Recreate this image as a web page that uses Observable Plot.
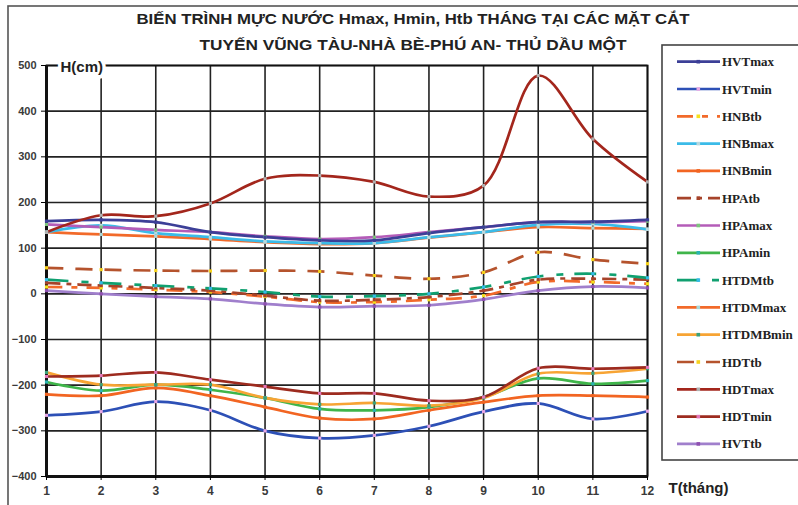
<!DOCTYPE html>
<html><head><meta charset="utf-8">
<script src="https://cdn.jsdelivr.net/npm/d3@7"></script>
<script src="https://cdn.jsdelivr.net/npm/@observablehq/plot@0.6"></script>
<style>
body{margin:0;background:#fff}
#wrap{position:relative;width:798px;height:505px;overflow:hidden;background:#fff}
</style>
</head><body><div id="wrap"></div>
<script>
// ---- data ----
const months = [1,2,3,4,5,6,7,8,9,10,11,12];
const yTicks = [-400,-300,-200,-100,0,100,200,300,400,500];
const titleLines = ["BIẾN TRÌNH MỰC NƯỚC Hmax, Hmin, Htb THÁNG TẠI CÁC MẶT CẮT",
                    "TUYẾN VŨNG TÀU-NHÀ BÈ-PHÚ AN- THỦ DẦU MỘT"];
const yLabel = "H(cm)";
const xLabel = "T(tháng)";
const legendNames = ["HVTmax","HVTmin","HNBtb","HNBmax","HNBmin","HPAtb","HPAmax","HPAmin",
                     "HTDMtb","HTDMmax","HTDMBmin","HDTtb","HDTmax","HDTmin","HVTtb"];

const HVTmax   = [159,162,157,135,124,117,117,133,146,157,158,162];
const HVTmin   = [-266,-258,-236,-255,-300,-316,-310,-290,-258,-240,-274,-257];
const HNBtb    = [15,13,9,4,-6,-18,-18,-13,-4,26,26,22];
const HNBmax   = [135,150,133,124,115,111,111,124,135,151,153,141];
const HNBmin   = [-220,-223,-206,-223,-248,-272,-274,-255,-237,-223,-223,-226];
const HPAtb    = [24,18,13,7,-4,-15,-13,-7,7,31,33,31];
const HPAmax   = [152,146,140,135,126,120,124,135,146,157,157,159];
const HPAmin   = [-193,-212,-199,-210,-228,-252,-255,-248,-226,-185,-197,-190];
const HTDMtb   = [31,24,18,12,4,-6,-5,0,15,38,44,35];
const HTDMmax  = [135,130,126,120,113,109,111,123,135,146,144,142];
const HTDMBmin = [-172,-199,-199,-199,-228,-242,-239,-245,-228,-175,-174,-164];
const HDTtb    = [57,53,51,50,51,49,40,33,47,91,75,66];
const HDTmax   = [135,172,170,198,252,259,245,213,237,478,339,245];
const HDTmin   = [-181,-179,-172,-188,-203,-218,-218,-234,-226,-163,-164,-161];
const HVTtb    = [7,0,-6,-11,-22,-29,-27,-25,-12,7,16,13];

const values = {HVTmax,HVTmin,HNBtb,HNBmax,HNBmin,HPAtb,HPAmax,HPAmin,HTDMtb,HTDMmax,HTDMBmin,HDTtb,HDTmax,HDTmin,HVTtb};

// ---- styles ----
const styles = {
  HVTmax:  {stroke:"#3c3f97", marker:"#3c3f97"},
  HVTmin:  {stroke:"#2d50b6", marker:"#e7a6e4"},
  HNBtb:   {stroke:"#f26a2a", marker:"#f6e21c", dash:"16,9,6,9"},
  HNBmax:  {stroke:"#3bbbe8", marker:"#b9d8de"},
  HNBmin:  {stroke:"#f26522", marker:"#f26522"},
  HPAtb:   {stroke:"#a6432a", marker:"#a6432a", dash:"14,6,5,6"},
  HPAmax:  {stroke:"#b45cb8", marker:"#7cc47c"},
  HPAmin:  {stroke:"#3fb54a", marker:"#2ab3b3"},
  HTDMtb:  {stroke:"#10a070", marker:"#33bbe8", dash:"22,13,7,11"},
  HTDMmax: {stroke:"#f26a2a", marker:"#a8d8d8"},
  HTDMBmin:{stroke:"#f7a434", marker:"#3aa07a"},
  HDTtb:   {stroke:"#b5532d", marker:"#f6d21c", dash:"17,12"},
  HDTmax:  {stroke:"#a3261c", marker:"#b0b0b0"},
  HDTmin:  {stroke:"#9d2b1f", marker:"#e377b8"},
  HVTtb:   {stroke:"#a07fcc", marker:"#8e4fb0"}
};
const drawOrder = ["HVTtb","HNBtb","HPAtb","HTDMtb","HDTtb","HNBmin","HVTmin","HPAmin","HTDMBmin","HDTmin",
                   "HTDMmax","HNBmax","HPAmax","HVTmax","HDTmax"];

const rowsOf = name => values[name].map((v,i)=>({name, month:months[i], value:v}));

const marks = [
  Plot.gridX(months, {stroke:"#222", strokeOpacity:1, strokeWidth:1.6}),
  Plot.gridY(yTicks, {stroke:"#222", strokeOpacity:1, strokeWidth:1.6}),
  Plot.frame({stroke:"#111", strokeWidth:1.8}),
  Plot.ruleX([1], {stroke:"#111", strokeWidth:3}),
  Plot.ruleY([-400], {stroke:"#111", strokeWidth:3}),
  Plot.axisY(yTicks, {label:null, tickSize:5, tickPadding:5, fontSize:11, fontWeight:"bold", fill:"#3a3a3a"}),
  Plot.axisX(months, {label:null, tickSize:4, tickPadding:6, fontSize:12, fontWeight:"bold", fill:"#3a3a3a"})
];
for (const name of drawOrder) {
  const s = styles[name];
  marks.push(Plot.line(rowsOf(name), {x:"month", y:"value", stroke:s.stroke, strokeWidth:2.7,
    curve:"catmull-rom", strokeDasharray:s.dash || null, strokeLinecap:"butt"}));
}
for (const name of drawOrder) {
  const s = styles[name];
  marks.push(Plot.dot(rowsOf(name), {x:"month", y:"value", r:1.8, symbol:"square", fill:s.marker, stroke:null}));
}
marks.push(Plot.text([yLabel], {x:()=>1, y:()=>500, text:d=>d, dx:14, dy:2, textAnchor:"start",
  fontSize:15, fontWeight:"bold", fill:"#222", stroke:"white", strokeWidth:7}));
marks.push(Plot.text([xLabel], {x:()=>12, y:()=>-400, text:d=>d, dx:21, dy:12, textAnchor:"start",
  fontSize:15, fontWeight:"bold", fill:"#222"}));

const chart = Plot.plot({
  width:798, height:505,
  marginLeft:46, marginRight:151, marginTop:65, marginBottom:29,
  x:{domain:[1,12], axis:null, label:null},
  y:{domain:[-400,500], axis:null, label:null},
  style:{fontFamily:"'Liberation Sans', Arial, sans-serif", background:"transparent", overflow:"visible"},
  marks
});
document.getElementById("wrap").appendChild(chart);

// ---- title, outer frame and legend ----
const svg = d3.select(chart);
svg.insert("rect", ":first-child").attr("x",8).attr("y",6).attr("width",820).attr("height",520)
  .attr("fill","none").attr("stroke","#555").attr("stroke-width",1.6);
const tw = [553, 427];
titleLines.forEach((t,i)=>{
  svg.append("text").attr("x",413).attr("y",i===0?23.5:50).attr("text-anchor","middle")
    .attr("font-family","'Liberation Sans', Arial, sans-serif").attr("font-weight","bold")
    .attr("font-size",15).attr("fill","#222")
    .attr("textLength",tw[i]).attr("lengthAdjust","spacingAndGlyphs").text(t);
});
const lg = svg.append("g");
lg.append("rect").attr("x",662).attr("y",45).attr("width",160).attr("height",415)
  .attr("fill","#fff").attr("stroke","#444").attr("stroke-width",1.6);
legendNames.forEach((name,i)=>{
  const s = styles[name];
  const y = 61.7 + i*27.3;
  lg.append("line").attr("x1",677).attr("x2",720).attr("y1",y).attr("y2",y)
    .attr("stroke",s.stroke).attr("stroke-width",2.7).attr("stroke-dasharray",s.dash||null);
  lg.append("rect").attr("x",696.5).attr("y",y-1.8).attr("width",3.6).attr("height",3.6).attr("fill",s.marker);
  lg.append("text").attr("x",722).attr("y",y).attr("dy","0.35em").attr("text-anchor","start")
    .attr("font-family","'Liberation Serif', 'Times New Roman', serif").attr("font-weight","bold")
    .attr("font-size",13).attr("fill","#222").text(name);
});
</script></body></html>
